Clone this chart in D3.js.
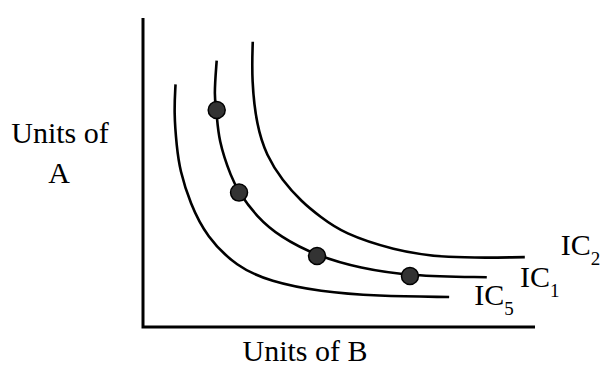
<!DOCTYPE html>
<html>
<head>
<meta charset="utf-8">
<script src="https://cdn.jsdelivr.net/npm/d3@7"></script>
<style>
  html, body { margin: 0; padding: 0; background: #fff; }
  svg { display: block; }
</style>
</head>
<body>
<svg id="chart"></svg>
<script>
// indifference curves (units of B, units of A)
const ic5 = [[8.3, 78.5], [7.9, 69.3], [8.6, 58.3], [9.4, 50.8], [12.0, 40.1], [16.2, 29.2],
  [23.9, 19.5], [32.4, 14.7], [45.2, 11.4], [59.6, 10.0], [78.1, 9.7]];
const ic1 = [[18.8, 86.2], [18.1, 74.5], [18.8, 70.2], [19.2, 60.5], [22.6, 48.1], [24.5, 43.5],
  [29.0, 35.7], [34.9, 29.2], [44.4, 23.0], [55.4, 19.0], [68.1, 16.5], [87.7, 16.1]];
const ic2 = [[28.0, 92.3], [27.7, 79.9], [29.0, 65.0], [31.5, 55.5], [35.5, 47.5], [40.5, 40.5],
  [45.2, 35.7], [51.1, 30.3], [63.9, 24.9], [76.6, 22.2], [97.4, 22.6]];
// bundles marked on IC1
const points = [[18.8, 70.2], [24.5, 43.5], [44.4, 23.0], [68.1, 16.5]];
const curveNames = ["IC5", "IC1", "IC2"];
const curveSubs = ["5", "1", "2"];

const width = 603;
const height = 367;
const serif = '"Liberation Serif"';

const svg = d3.select("#chart")
  .attr("width", width)
  .attr("height", height);

const x = d3.scaleLinear().domain([0, 100]).range([143, 535]);
const y = d3.scaleLinear().domain([0, 100]).range([327, 18]);

// axes: just the two lines, no ticks
svg.append("path")
  .attr("d", `M${x(0)},${y(100)}V${y(0)}H${x(100)}`)
  .attr("fill", "none")
  .attr("stroke", "#000")
  .attr("stroke-width", 3);

const line = d3.line()
  .x(d => x(d[0]))
  .y(d => y(d[1]))
  .curve(d3.curveBasis);

svg.append("g")
  .selectAll("path")
  .data([ic5, ic1, ic2])
  .enter()
  .append("path")
  .attr("d", line)
  .attr("fill", "none")
  .attr("stroke", "#000")
  .attr("stroke-width", 2.6);

svg.append("g")
  .selectAll("circle")
  .data(points)
  .enter()
  .append("circle")
  .attr("cx", d => x(d[0]))
  .attr("cy", d => y(d[1]))
  .attr("r", 8.5)
  .attr("fill", "#333")
  .attr("stroke", "#000")
  .attr("stroke-width", 1.5);

// curve labels next to each curve end
const labelPos = [[84.5, 7.1], [96.2, 13.0], [106.6, 23.4]];
const labels = svg.append("g")
  .selectAll("text")
  .data(curveNames)
  .enter()
  .append("text")
  .style("font-family", serif)
  .attr("x", (d, i) => x(labelPos[i][0]))
  .attr("y", (d, i) => y(labelPos[i][1]))
  .attr("font-size", 30);

labels.append("tspan").text(d => d.slice(0, 2));
labels.append("tspan")
  .attr("font-size", 19)
  .attr("dy", 10)
  .text((d, i) => curveSubs[i]);

// axis titles
const titles = [
  { text: "Units of", x: 60, y: 143 },
  { text: "A", x: 59, y: 183 },
  { text: "Units of B", x: 305, y: 361 }
];

svg.append("g")
  .selectAll("text")
  .data(titles)
  .enter()
  .append("text")
  .style("font-family", serif)
  .attr("font-size", 30)
  .attr("text-anchor", "middle")
  .attr("x", d => d.x)
  .attr("y", d => d.y)
  .text(d => d.text);
</script>
</body>
</html>
